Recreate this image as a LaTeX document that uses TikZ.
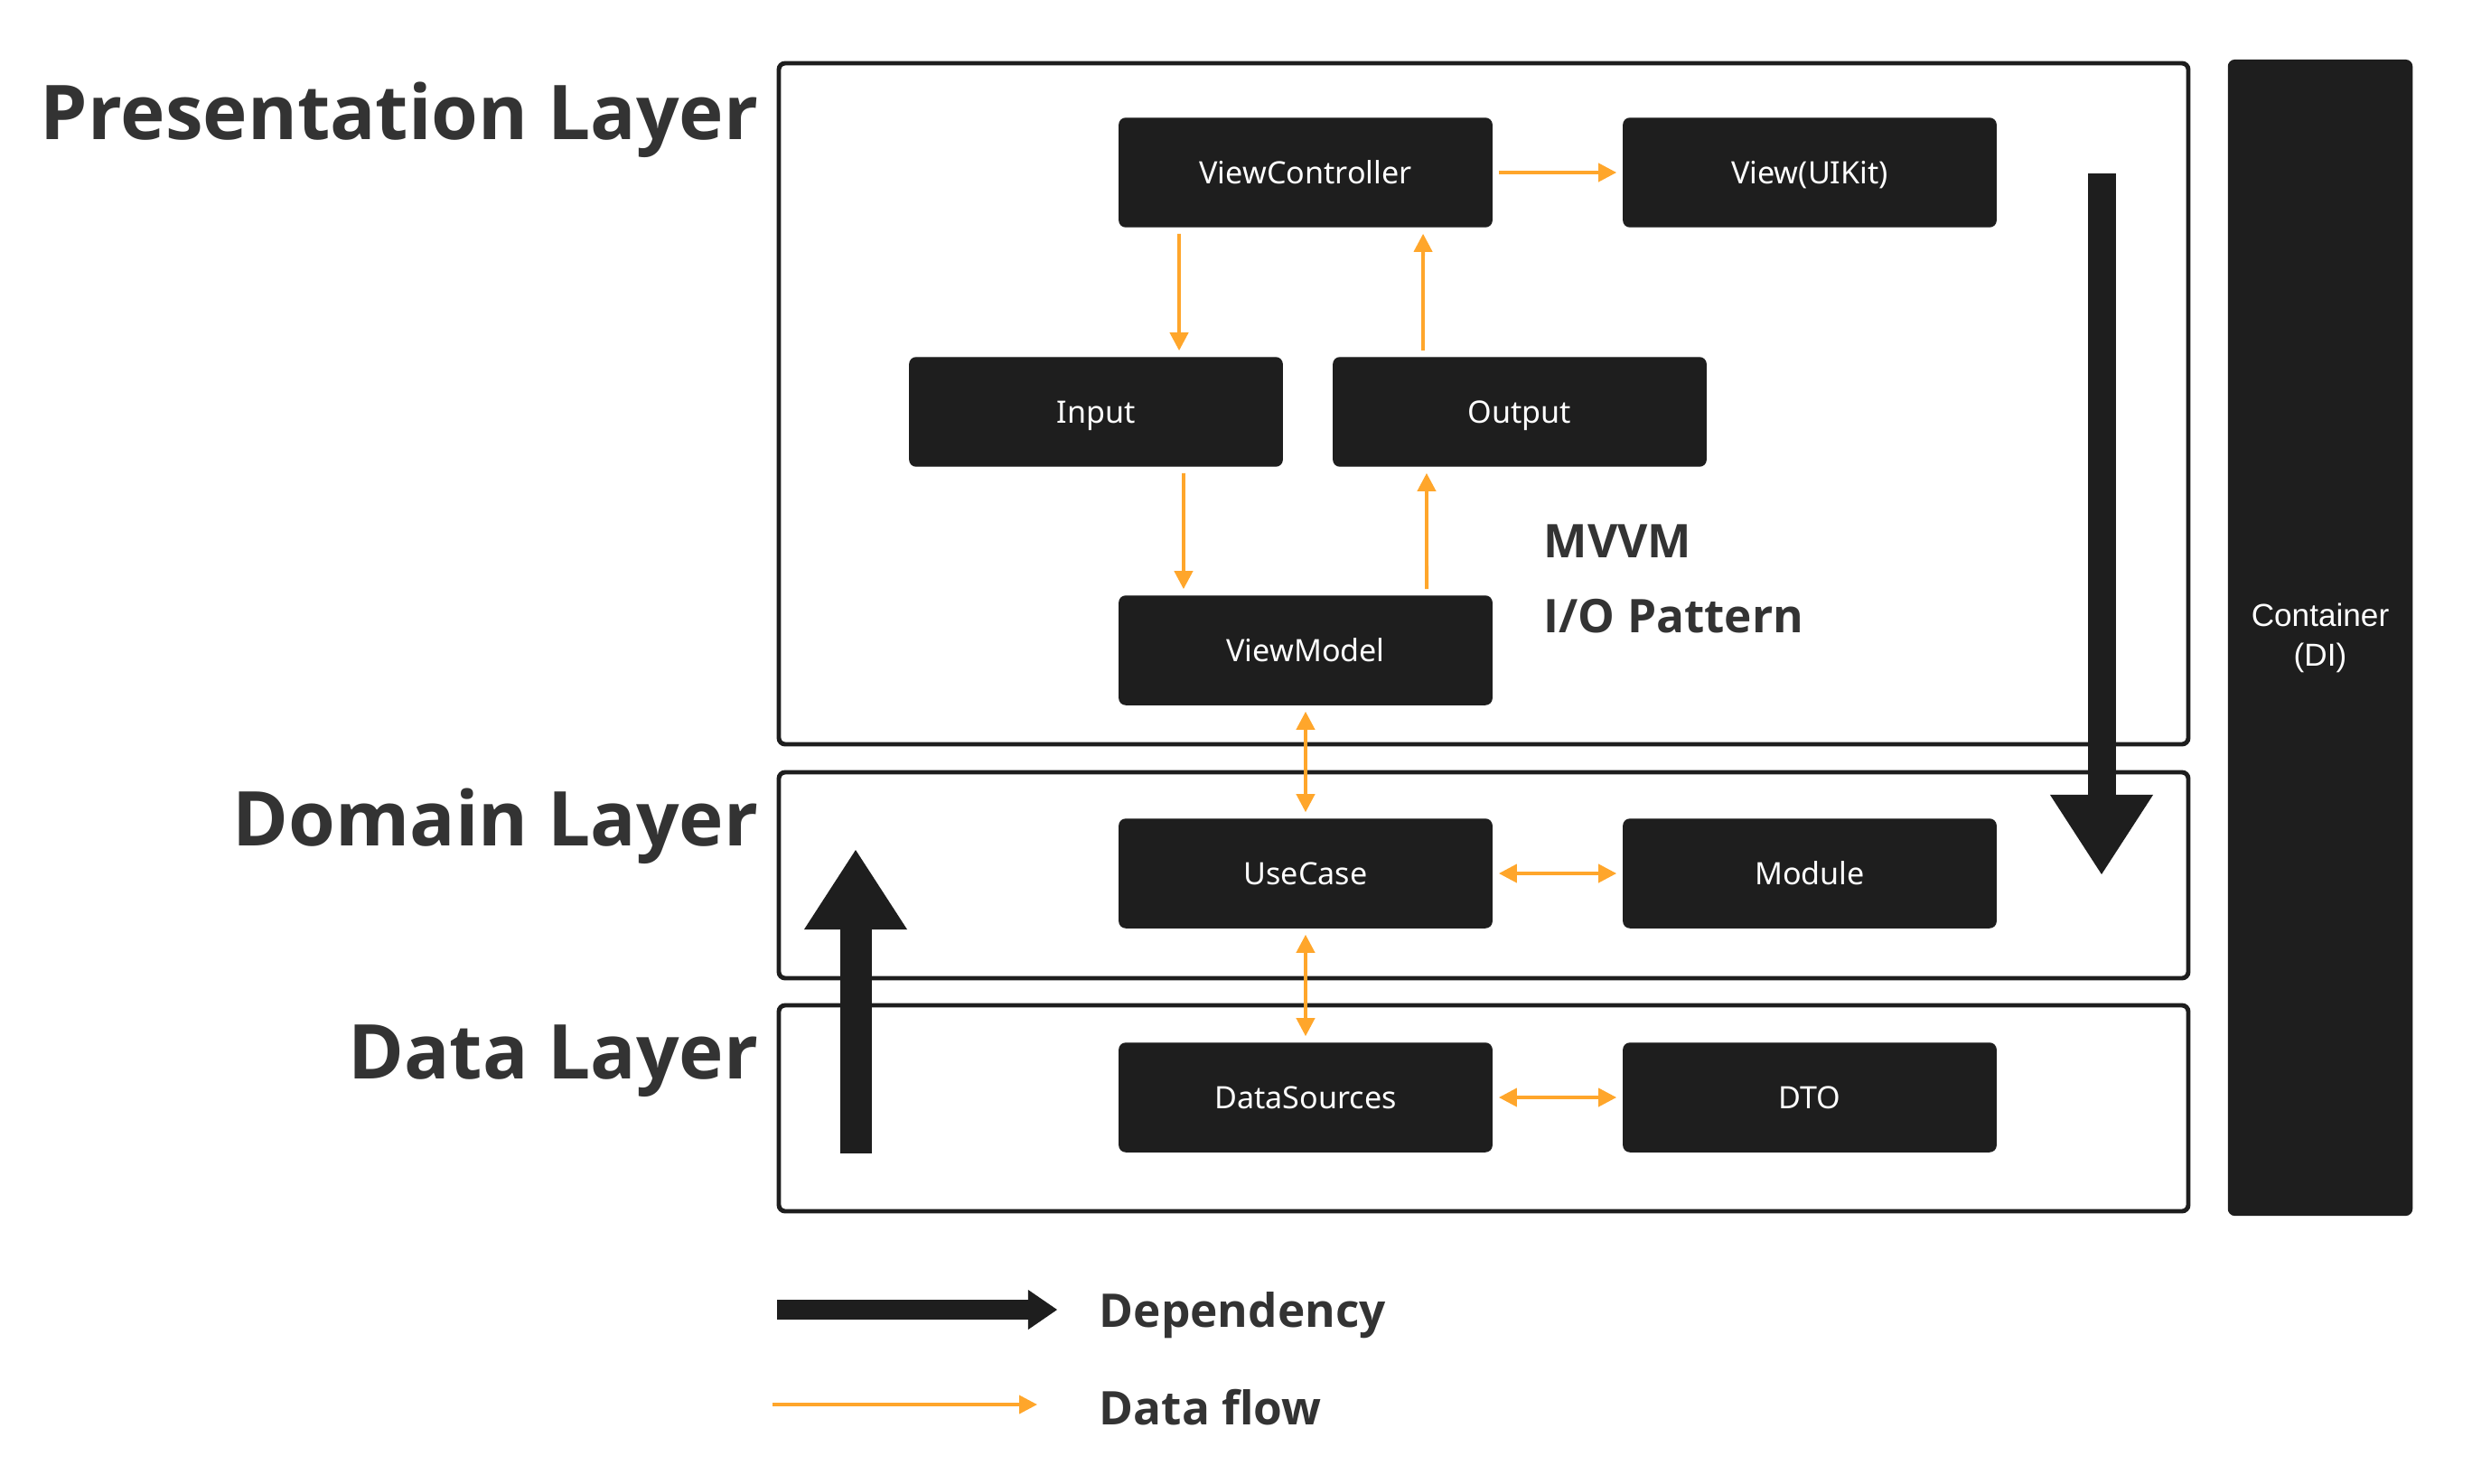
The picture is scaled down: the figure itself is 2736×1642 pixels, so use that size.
\documentclass[tikz,border=0pt]{standalone}
\usepackage{fontspec}
\setmainfont{Noto Sans}
\newfontfamily\headfont{Open Sans}
\newfontfamily\arialfont{Liberation Sans}
\usetikzlibrary{arrows.meta}
\definecolor{boxblack}{HTML}{1E1E1E}
\definecolor{flowamber}{HTML}{FFA62B}
\definecolor{titlegray}{HTML}{333333}

\begin{document}
\begin{tikzpicture}[x=0.01cm, y=-0.01cm,
    block/.style={rectangle, rounded corners=2pt, fill=boxblack, draw=boxblack, text=white,
        minimum width=4.12cm, minimum height=1.2cm, font=\fontsize{9.7}{12}\selectfont},
    cell/.style={block, text height=8.4pt, text depth=1.5pt},
    layer/.style={draw=boxblack, line width=1.4pt, rounded corners=2pt},
    flow/.style={draw=flowamber, line width=1.1pt, -{Triangle[width=0.2cm, length=0.2cm]}, shorten <=2pt, shorten >=2pt},
    flowboth/.style={flow, {Triangle[width=0.2cm, length=0.2cm]}-{Triangle[width=0.2cm, length=0.2cm]}},
    dep/.style={draw=boxblack, line width=0.31cm, -{Triangle[width=1.14cm, length=0.88cm, line width=0pt]}},
    title/.style={text=titlegray, font=\headfont\bfseries\fontsize{23.8}{28}\selectfont, inner sep=0pt, anchor=base east},
    note/.style={text=titlegray, font=\headfont\bfseries\fontsize{14.6}{18}\selectfont, inner sep=0pt, anchor=base west}]
            \useasboundingbox (0,0) rectangle (2736,1642);

            % Layers
            \draw[layer] (862,70) rectangle (2422,824);
            \draw[layer] (862,855) rectangle (2422,1083);
            \draw[layer] (862,1113) rectangle (2422,1341);
            \node[title] (presTitle) at (840,154) {Presentation Layer};
            \node[title] (domTitle) at (840,936) {Domain Layer};
            \node[title] (dataTitle) at (840,1194) {Data Layer};

            % Container on the right
            \node[block, minimum width=2.03cm, minimum height=12.78cm, align=center,
                font=\arialfont\fontsize{10}{12.5}\selectfont] (di) at (2568,706) {Container\\(DI)};

            % Presentation layer blocks
            \node[cell] (vc) at (1445,191) {ViewController};
            \node[cell] (view) at (2003,191) {View(UIKit)};
            \node[cell] (input) at (1213,456) {Input};
            \node[cell] (output) at (1682,456) {Output};
            \node[cell] (vm) at (1445,720) {ViewModel};
            \node[note] (mvvm) at (1708,617) {MVVM};
            \node[note] (io) at (1708,700) {I/O Pattern};

            % Domain and data blocks
            \node[cell] (usecase) at (1445,967) {UseCase};
            \node[cell] (module) at (2003,967) {Module};
            \node[cell] (datasrc) at (1445,1215) {DataSources};
            \node[cell] (dto) at (2003,1215) {DTO};

            % Data flow
            \draw[flow] (vc) -- (view);
            \draw[flow] ([xshift=-1.4cm]vc.south) -- ([xshift=0.92cm]input.north);
            \draw[flow] ([xshift=0.97cm]input.south) -- ([xshift=-1.35cm]vm.north);
            \draw[flow] ([xshift=1.34cm]vm.north) -- ([xshift=-1.03cm]output.south);
            \draw[flow] ([xshift=-1.07cm]output.north) -- ([xshift=1.3cm]vc.south);
            \draw[flowboth] (vm) -- (usecase);
            \draw[flowboth] (usecase) -- (module);
            \draw[flowboth] (usecase) -- (datasrc);
            \draw[flowboth] (datasrc) -- (dto);

            % Dependency arrows
            \coordinate (downTop) at (2326,192);
            \coordinate (downTip) at (2326,968);
            \coordinate (upBottom) at (947,1277);
            \coordinate (upTip) at (947,941);
            \draw[dep] (downTop) -- (downTip);
            \draw[dep, line width=0.35cm] (upBottom) -- (upTip);

            % Legend
            \coordinate (depStart) at (860,1450);
            \coordinate (depEnd) at (1170,1450);
            \coordinate (flowStart) at (855,1555);
            \coordinate (flowEnd) at (1148,1555);
            \draw[draw=boxblack, line width=0.22cm, -{Triangle[width=0.44cm, length=0.32cm, line width=0pt]}] (depStart) -- (depEnd);
            \draw[flow, shorten <=0pt, shorten >=0pt] (flowStart) -- (flowEnd);
            \node[note] (depLabel) at (1216,1469) {Dependency};
            \node[note] (flowLabel) at (1216,1577) {Data flow};
        \end{tikzpicture}
\end{document}
